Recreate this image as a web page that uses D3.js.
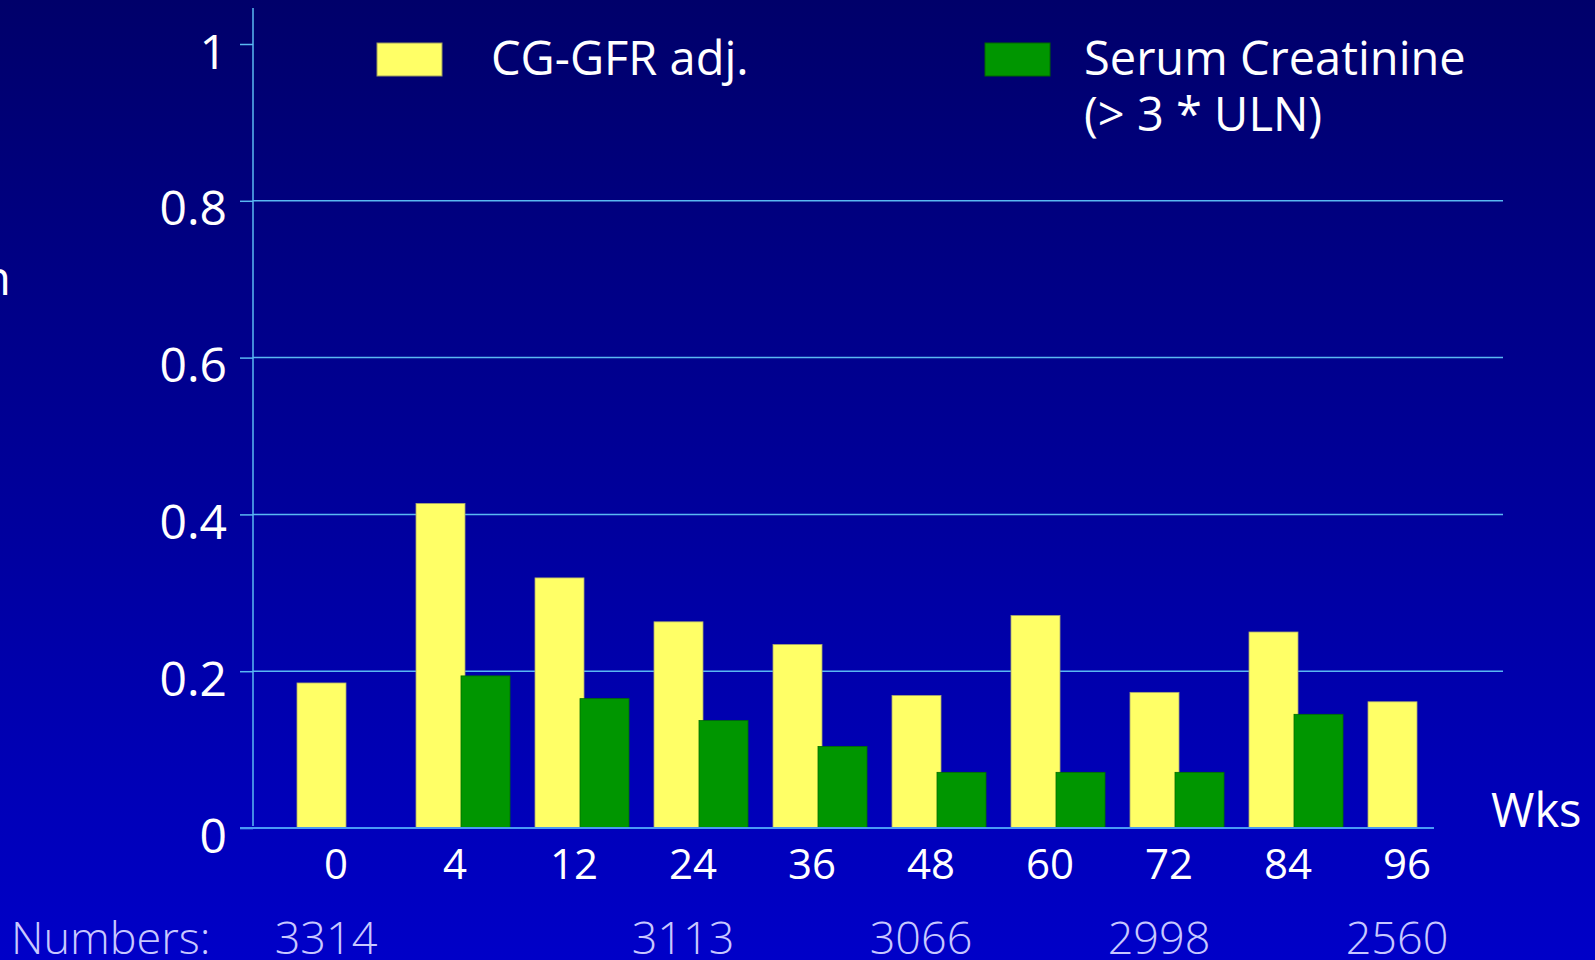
<!DOCTYPE html>
<html lang="en">
<head>
    <meta charset="utf-8">
    <title>CG-GFR adj. / Serum Creatinine</title>
    <style type="text/css">
        html, body { margin: 0; padding: 0; background: #000080; }
        svg { display: block; }
        text { font-family: "Open Sans", "DejaVu Sans", sans-serif; fill: #fff; font-weight: 500; }
        .count { fill: #c8c8ff; font-weight: 300; }
    </style>
</head>
<body>
<svg class="chart" width="1595" height="960"></svg>

<script src="https://d3js.org/d3.v7.min.js"></script>
<script>
    // data
    var weeks   = ['0', '4', '12', '24', '36', '48', '60', '72', '84', '96'];
    var cgGfr   = [0.185, 0.414, 0.319, 0.263, 0.234, 0.169, 0.271, 0.173, 0.250, 0.161];
    var serumCr = [null, 0.194, 0.165, 0.137, 0.104, 0.071, 0.071, 0.071, 0.145, null];
    var yTicks  = [0, 0.2, 0.4, 0.6, 0.8, 1];
    var countWeeks = ['0', '24', '48', '72', '96'];
    var counts     = ['3314', '3113', '3066', '2998', '2560'];

    var svg = d3.select('.chart'),
        width = +svg.attr('width'),
        height = +svg.attr('height');

    // background gradient, dark navy to blue
    var grad = svg.append('defs').append('linearGradient')
        .attr('id', 'bg')
        .attr('x1', 0).attr('y1', 0).attr('x2', 0).attr('y2', 1);
    grad.append('stop').attr('offset', '0%').attr('stop-color', '#00006a');
    grad.append('stop').attr('offset', '100%').attr('stop-color', '#0000c8');
    svg.append('rect').attr('width', width).attr('height', height).attr('fill', 'url(#bg)');

    // scales
    var x = d3.scaleBand().domain(weeks).range([253, 1443]).padding(0),
        y = d3.scaleLinear().domain([0, 1]).range([828, 44]);

    var barW = 49,
        yellowOff = 44,   // yellow bar from band start
        greenOff = 89,    // green bar overlaps yellow a little
        labelOff = 83;

    // gridlines (no line at 1, only a tick)
    svg.append('g').selectAll('line')
        .data(yTicks.filter(function(d) { return d > 0 && d < 1; }))
        .join('line')
        .attr('x1', 253).attr('x2', 1503)
        .attr('y1', function(d) { return y(d); })
        .attr('y2', function(d) { return y(d); })
        .attr('stroke', '#5ab8f2').attr('stroke-width', 1.5);

    // y axis
    var yAxis = d3.axisLeft(y).tickValues(yTicks).tickSize(13).tickPadding(13)
        .tickFormat(function(d) { return d === 0 ? '0' : d === 1 ? '1' : d3.format('.1f')(d); });
    var gy = svg.append('g').attr('transform', 'translate(253,0)').call(yAxis);
    gy.select('.domain').remove();
    gy.selectAll('.tick line').attr('stroke', '#5ab8f2').attr('stroke-width', 1.5);
    gy.selectAll('.tick text')
        .attr('fill', '#fff')
        .attr('font-size', 48)
        .attr('font-family', null)
        .attr('dy', '0.5em');
    svg.append('line')
        .attr('x1', 253).attr('x2', 253).attr('y1', 8).attr('y2', 826)
        .attr('stroke', '#5ab8f2').attr('stroke-width', 1.5);

    // bars
    svg.append('g').selectAll('rect')
        .data(weeks.map(function(w, i) { return {w: w, v: cgGfr[i]}; }))
        .join('rect')
        .attr('x', function(d) { return x(d.w) + yellowOff; })
        .attr('y', function(d) { return y(d.v); })
        .attr('width', barW)
        .attr('height', function(d) { return y(0) - y(d.v); })
        .attr('fill', '#ffff66')
        .attr('stroke', '#a8a870').attr('stroke-width', 0.8);

    svg.append('g').selectAll('rect')
        .data(weeks.map(function(w, i) { return {w: w, v: serumCr[i]}; })
                   .filter(function(d) { return d.v != null; }))
        .join('rect')
        .attr('x', function(d) { return x(d.w) + greenOff; })
        .attr('y', function(d) { return y(d.v); })
        .attr('width', barW)
        .attr('height', function(d) { return y(0) - y(d.v); })
        .attr('fill', '#009600')
        .attr('stroke', '#006e00').attr('stroke-width', 0.8);

    // x axis line + week labels
    svg.append('line')
        .attr('x1', 240).attr('x2', 1434).attr('y1', y(0)).attr('y2', y(0))
        .attr('stroke', '#4a9af5').attr('stroke-width', 2);

    svg.append('g').selectAll('text')
        .data(weeks)
        .join('text')
        .attr('x', function(d) { return x(d) + labelOff; })
        .attr('y', 879)
        .attr('text-anchor', 'middle')
        .attr('font-size', 42)
        .text(function(d) { return d; });

    svg.append('text')
        .attr('x', 1491).attr('y', 827)
        .attr('font-size', 47)
        .text('Wks');

    // y title, cut off on the slide; only its last letter shows
    svg.append('text')
        .attr('x', 11).attr('y', 295)
        .attr('text-anchor', 'end')
        .attr('font-size', 48)
        .text('n');

    // patient numbers row
    svg.append('text')
        .attr('class', 'count')
        .attr('x', 11).attr('y', 954)
        .attr('font-size', 45)
        .text('Numbers:');

    svg.append('g').selectAll('text')
        .data(countWeeks.map(function(w, i) { return {w: w, n: counts[i]}; }))
        .join('text')
        .attr('class', 'count')
        .attr('x', function(d) { return x(d.w) + labelOff - 10; })
        .attr('y', 954)
        .attr('text-anchor', 'middle')
        .attr('font-size', 45)
        .text(function(d) { return d.n; });

    // legend
    var legend = svg.append('g');
    legend.append('rect')
        .attr('x', 377).attr('y', 43).attr('width', 65).attr('height', 33)
        .attr('fill', '#ffff66').attr('stroke', '#9a9a60').attr('stroke-width', 1);
    legend.append('text')
        .attr('x', 491).attr('y', 75).attr('font-size', 47)
        .text('CG-GFR adj.');
    legend.append('rect')
        .attr('x', 985).attr('y', 43).attr('width', 65).attr('height', 33)
        .attr('fill', '#009600').attr('stroke', '#006600').attr('stroke-width', 1);
    legend.append('text')
        .attr('x', 1084).attr('y', 75).attr('font-size', 47)
        .text('Serum Creatinine');
    legend.append('text')
        .attr('x', 1084).attr('y', 131).attr('font-size', 47)
        .text('(> 3 * ULN)');
</script>
</body>
</html>
